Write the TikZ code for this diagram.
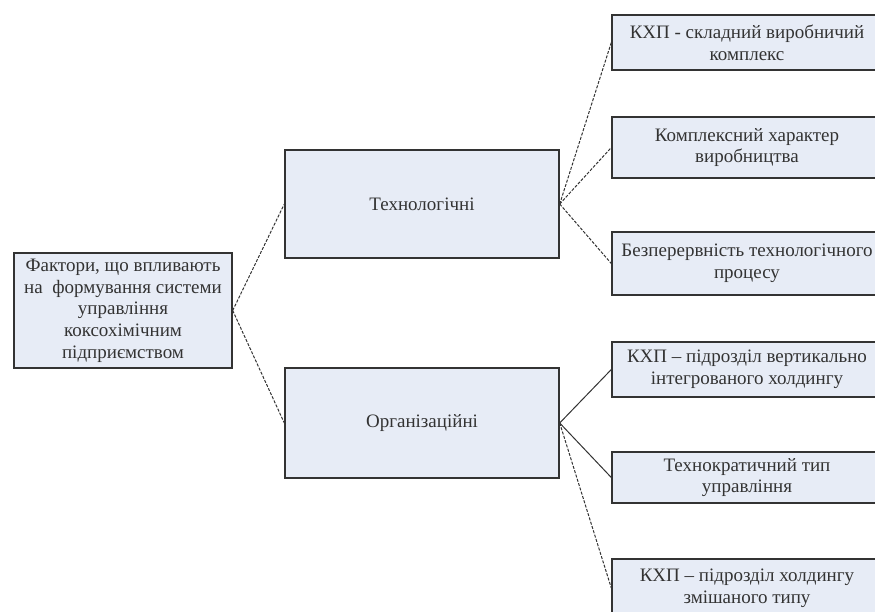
\documentclass[tikz,border=0pt]{standalone}
\usepackage{fontspec}
\setmainfont{Liberation Serif}
\definecolor{boxfill}{HTML}{E7ECF6}
\definecolor{boxline}{HTML}{333333}
\definecolor{txt}{HTML}{333333}

\begin{document}
\begin{tikzpicture}[x=1pt, y=-1pt,
    box/.style={draw=boxline, fill=boxfill, line width=1.4pt, text=txt, align=center,
      inner sep=0pt, font=\fontsize{19}{21.7}\selectfont},
    leaf/.style={box, minimum width=270pt},
    link/.style={draw=boxline, line width=1pt},
    dlink/.style={link, dash pattern=on 3pt off 1.5pt}]
        \useasboundingbox (0,0) rectangle (875,611);

        % корінь
        \node[box, minimum width=218pt, minimum height=115pt] (root) at (123,310.5)
          {Фактори, що впливають\\на\ \ формування системи\\управління\\коксохімічним\\підприємством};

        % групи факторів
        \node[box, minimum width=274pt, minimum height=108pt] (tech) at (422,204) {Технологічні};
        \node[box, minimum width=274pt, minimum height=110pt] (org) at (422,423) {Організаційні};

        % фактори
        \node[leaf, minimum height=55pt] (t1) at (747,42.5) {КХП - складний виробничий\\комплекс};
        \node[leaf, minimum height=61pt] (t2) at (747,147.5) {Комплексний характер\\виробництва};
        \node[leaf, minimum height=63pt] (t3) at (747,263.5) {Безперервність технологічного\\процесу};
        \node[leaf, minimum height=55pt] (o1) at (747,369.5) {КХП – підрозділ вертикально\\інтегрованого холдингу};
        \node[leaf, minimum height=51pt] (o2) at (747,477.5) {Технократичний тип\\управління};
        \node[leaf, minimum height=58pt] (o3) at (747,588) {КХП – підрозділ холдингу\\змішаного типу};

        % зв'язки
        \foreach \g in {tech,org}
          \draw[dlink] (root.east) -- (\g.west);
        \foreach \f in {t1,t2,t3}
          \draw[dlink] (tech.east) -- (\f.west);
        \foreach \f in {o1,o2}
          \draw[link] (org.east) -- (\f.west);
        \draw[dlink] (org.east) -- (o3.west);
      \end{tikzpicture}
\end{document}
